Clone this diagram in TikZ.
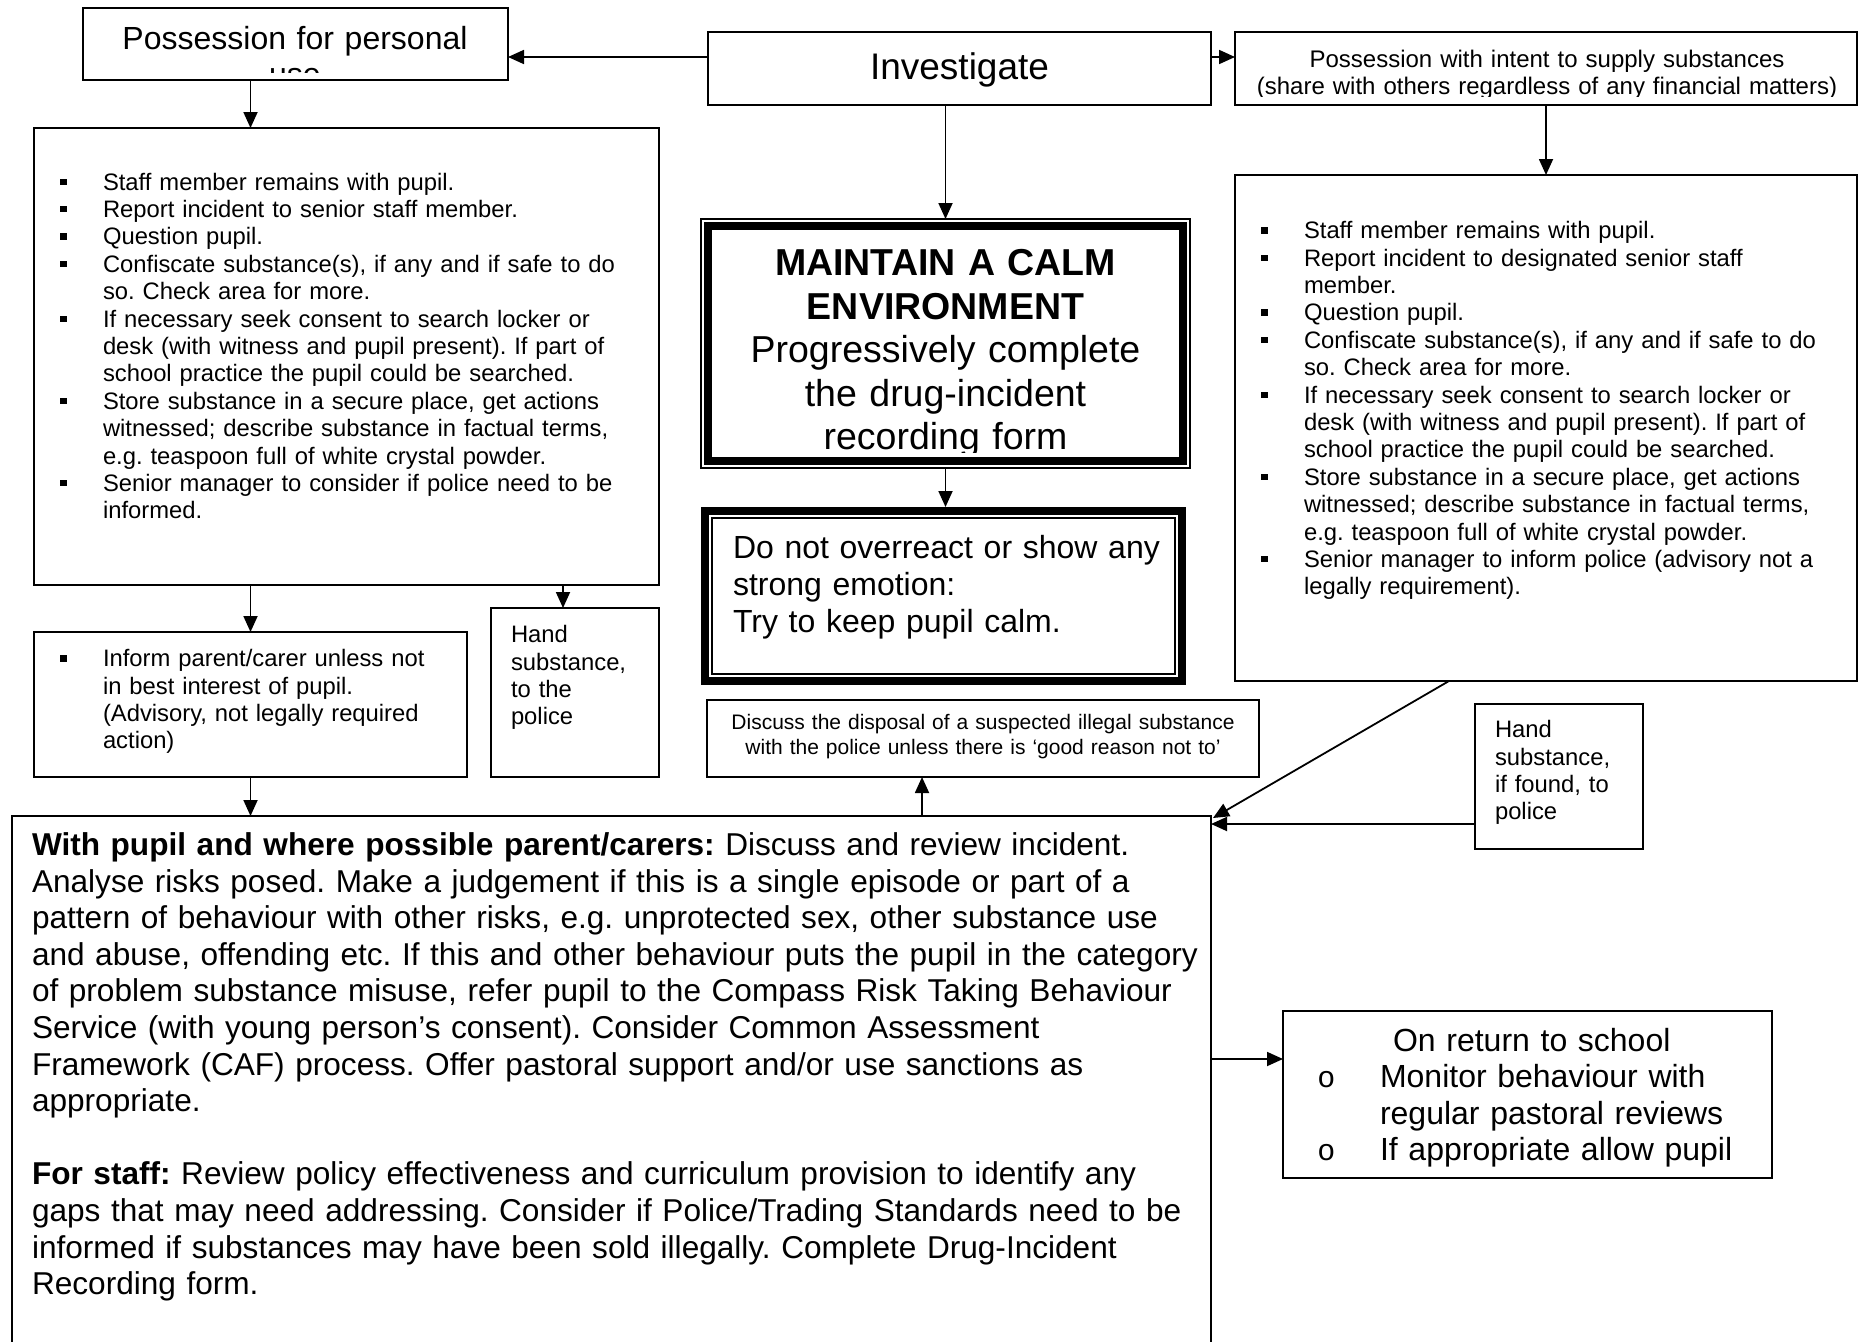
\documentclass[tikz,border=0pt]{standalone}
\usepackage{fontspec}
\setmainfont{Liberation Sans}
\newfontfamily\courfont{Liberation Mono}
\usetikzlibrary{arrows.meta}
\frenchspacing
\newcommand{\sqb}{\noindent\llap{\hbox to 43pt{\rule[5pt]{6.5pt}{6.5pt}\hfil}}}
\newcommand{\cbul}{\noindent\llap{\hbox to 58pt{\kern-4.7pt\courfont\fontsize{30}{30}\selectfont o\hfil}}}
\begin{document}
\begin{tikzpicture}[x=1pt,y=-1pt,
  box/.style={draw, line width=2pt, inner sep=0pt, outer sep=0pt, anchor=north west},
  tl/.style={anchor=base west, inner sep=0pt, outer sep=0pt, align=left, text width=#1},
  tc/.style={anchor=base, inner sep=0pt, outer sep=0pt, align=center, text width=#1},
  arr/.style={line width=1.8pt, -{Triangle[length=16pt,width=14pt]}},
  small/.style={font=\fontsize{23.8}{27.4}\selectfont},
  large/.style={font=\fontsize{31.6}{36.6}\selectfont}]
\useasboundingbox (0,0) rectangle (1859,1341);
\fill[white] (0,0) rectangle (1859,1341);

% ---------- boxes ----------
\node[box, minimum width=425pt, minimum height=72pt] (pos) at (83,8) {};
\node[box, minimum width=503pt, minimum height=73pt] (inv) at (708,32) {};
\node[box, minimum width=622pt, minimum height=73pt] (sup) at (1235,32) {};
\node[box, minimum width=625pt, minimum height=457pt] (lbox) at (34,128) {};
\node[box, minimum width=622pt, minimum height=506pt] (rbox) at (1235,175) {};
\node[box, line width=1.5pt, minimum width=489pt, minimum height=249pt] (maint) at (701,219) {};
\node[box, draw=none, minimum width=485pt, minimum height=178pt] (dont) at (701,507) {};
\node[box, minimum width=552pt, minimum height=77pt] (disc) at (707,700) {};
\node[box, minimum width=433pt, minimum height=145pt] (inform) at (34,632) {};
\node[box, minimum width=168pt, minimum height=169pt] (handL) at (491,608) {};
\node[box, minimum width=168pt, minimum height=145pt] (handR) at (1475,704) {};
\node[box, minimum width=1199pt, minimum height=560pt] (big) at (12,816) {};
\node[box, minimum width=489pt, minimum height=167pt] (ret) at (1283,1011) {};

% double borders
\draw[line width=8pt] ([shift={(7pt,-7pt)}]maint.north west) rectangle ([shift={(-7pt,7pt)}]maint.south east);
\draw[line width=8pt] ([shift={(4pt,-4pt)}]dont.north west) rectangle ([shift={(-4pt,4pt)}]dont.south east);
\draw[line width=1.5pt] ([shift={(11pt,-11pt)}]dont.north west) rectangle ([shift={(-11pt,11pt)}]dont.south east);

% ---------- texts ----------
\begin{scope}
\clip (84,9) rectangle (507,72);
\node[tc=420pt, font=\fontsize{32}{35.5}\selectfont] (posT) at (295,49.5) {Possession for personal\\use};
\end{scope}

\node[tc=480pt, font=\fontsize{37}{42}\selectfont] (invT) at (959.5,79) {Investigate};

\begin{scope}
\clip (1236,33) rectangle (1856,96);
\node[tc=620pt, font=\fontsize{24}{27.3}\selectfont] (supT) at (1547,67) {Possession with intent to supply substances\\(share with others regardless of any financial matters)};
\end{scope}

\begin{scope}
\clip (712,229) rectangle (1180,452);
\node[tc=470pt, font=\fontsize{37.5}{43.5}\selectfont] (maintT) at (945.5,275.7) {{\bfseries MAINTAIN A CALM\\ENVIRONMENT}\\Progressively complete\\the drug-incident\\recording form};
\end{scope}

\node[tl=460pt, font=\fontsize{32}{37}\selectfont] (dontT) at (733,558.5) {Do not overreact or show any\\strong emotion:\\Try to keep pupil calm.};

\node[tc=540pt, font=\fontsize{21}{25}\selectfont] (discT) at (983,729) {Discuss the disposal of a suspected illegal substance\\with the police unless there is ‘good reason not to’};

\node[tl=590pt, small] (lT) at (60,190) {\leftskip=43pt
\sqb Staff member remains with pupil.\par
\sqb Report incident to senior staff member.\par
\sqb Question pupil.\par
\sqb Confiscate substance(s), if any and if safe to do\par
so. Check area for more.\par
\sqb If necessary seek consent to search locker or\par
desk (with witness and pupil present). If part of\par
school practice the pupil could be searched.\par
\sqb Store substance in a secure place, get actions\par
witnessed; describe substance in factual terms,\par
e.g. teaspoon full of white crystal powder.\par
\sqb Senior manager to consider if police need to be\par
informed.\par};

\node[tl=590pt, small] (rT) at (1261,238.6) {\leftskip=43pt
\sqb Staff member remains with pupil.\par
\sqb Report incident to designated senior staff\par
member.\par
\sqb Question pupil.\par
\sqb Confiscate substance(s), if any and if safe to do\par
so. Check area for more.\par
\sqb If necessary seek consent to search locker or\par
desk (with witness and pupil present). If part of\par
school practice the pupil could be searched.\par
\sqb Store substance in a secure place, get actions\par
witnessed; describe substance in factual terms,\par
e.g. teaspoon full of white crystal powder.\par
\sqb Senior manager to inform police (advisory not a\par
legally requirement).\par};

\node[tl=420pt, small] (infT) at (60,666.6) {\leftskip=43pt
\sqb Inform parent/carer unless not\par
in best interest of pupil.\par
(Advisory, not legally required\par
action)\par};

\node[tl=150pt, small] (hLT) at (511,642.6) {Hand\\substance,\\to the\\police};
\node[tl=150pt, small] (hRT) at (1495,737.6) {Hand\\substance,\\if found, to\\police};

\node[tl=1190pt, large] (bigT) at (32,855.5) {\textbf{With pupil and where possible parent/carers:} Discuss and review incident.\\
Analyse risks posed. Make a judgement if this is a single episode or part of a\\
pattern of behaviour with other risks, e.g. unprotected sex, other substance use\\
and abuse, offending etc. If this and other behaviour puts the pupil in the category\\
of problem substance misuse, refer pupil to the Compass Risk Taking Behaviour\\
Service (with young person’s consent). Consider Common Assessment\\
Framework (CAF) process. Offer pastoral support and/or use sanctions as\\
appropriate.\\
\mbox{}\\
\textbf{For staff:} Review policy effectiveness and curriculum provision to identify any\\
gaps that may need addressing. Consider if Police/Trading Standards need to be\\
informed if substances may have been sold illegally. Complete Drug-Incident\\
Recording form.};

\node[tl=470pt, font=\fontsize{32}{36.5}\selectfont] (retT) at (1322,1051) {\leftskip=58pt
\hspace*{13pt}On return to school\par
\cbul Monitor behaviour with\par
regular pastoral reviews\par
\cbul If appropriate allow pupil\par};

% ---------- connectors ----------
\coordinate (yT) at (0,57);
\coordinate (xH) at (563,0);
\coordinate (xD) at (922,0);
\coordinate (xR) at (1449,0);
\coordinate (yH) at (0,824);
\coordinate (yR) at (0,1059);

\draw[arr] (inv.west |- yT) -- (pos.east |- yT);
\draw[arr] (inv.east |- yT) -- (sup.west |- yT);
\draw[arr] (maint.north |- inv.south) -- (maint.north);
\draw[arr] (sup.south) -- (sup.south |- rbox.north);
\draw[arr] (inform.north |- pos.south) -- (inform.north |- lbox.north);
\draw[arr] (inform.north |- lbox.south) -- (inform.north);
\draw[arr] (lbox.south -| xH) -- (handL.north -| xH);
\draw[arr] (maint.south) -- (maint.south |- dont.north);
\draw[arr] (inform.south) -- (inform.south |- big.north);
\draw[arr] (big.north -| xD) -- (disc.south -| xD);
\draw[arr] (rbox.south -| xR) -- ([shift={(2pt,-2pt)}]big.north east);
\draw[arr] (handR.west |- yH) -- (big.east |- yH);
\draw[arr] (big.east |- yR) -- (ret.west |- yR);
\end{tikzpicture}
\end{document}
